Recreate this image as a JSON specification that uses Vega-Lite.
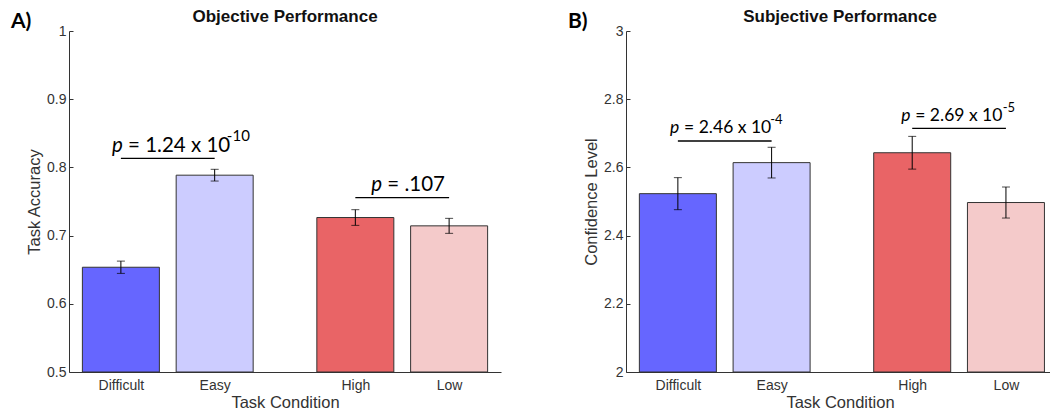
{
  "$schema": "https://vega.github.io/schema/vega-lite/v6.json",
  "padding": {"left": 10, "top": 8, "right": 0, "bottom": 5},
  "spacing": 125,
  "bounds": "flush",
  "config": {"view": {"stroke": null}, "font": "Liberation Sans"},
  "datasets": {
    "barsA": [
      {"cond": "Difficult", "pos": 1, "mean": 0.6536, "err": 0.009},
      {"cond": "Easy", "pos": 2, "mean": 0.7886, "err": 0.0086},
      {"cond": "High", "pos": 3.5, "mean": 0.7265, "err": 0.0115},
      {"cond": "Low", "pos": 4.5, "mean": 0.7143, "err": 0.011}
    ],
    "barsB": [
      {"cond": "Difficult", "pos": 1, "mean": 2.523, "err": 0.047},
      {"cond": "Easy", "pos": 2, "mean": 2.614, "err": 0.045},
      {"cond": "High", "pos": 3.5, "mean": 2.643, "err": 0.048},
      {"cond": "Low", "pos": 4.5, "mean": 2.497, "err": 0.0455}
    ],
    "annA": [
      {"x1": 1, "x2": 2, "ly": 0.8133, "tx": 0.906, "ty": 0.8226, "text": "= 1.24 x 10", "exp": "-10", "ex": 2.13},
      {"x1": 3.5, "x2": 4.5, "ly": 0.7556, "tx": 3.67, "ty": 0.7654, "text": "= .107", "exp": "", "ex": 4.5}
    ],
    "annB": [
      {"x1": 1, "x2": 2, "ly": 2.6774, "tx": 0.917, "ty": 2.7018, "text": "= 2.46 x 10", "exp": "-4", "ex": 1.985},
      {"x1": 3.5, "x2": 4.5, "ly": 2.7146, "tx": 3.383, "ty": 2.736, "text": "= 2.69 x 10", "exp": "-5", "ex": 4.465}
    ],
    "panelA": [{"label": "A)"}],
    "panelB": [{"label": "B)"}]
  },
  "hconcat": [
    {
      "width": 432,
      "height": 341,
      "title": {"text": "Objective Performance", "frame": "group", "anchor": "middle", "fontSize": 17, "fontWeight": "bold", "color": "#111", "offset": -28, "baseline": "alphabetic"},
      "encoding": {
        "x": {"type": "quantitative", "scale": {"domain": [0.5, 5], "nice": false, "zero": false}},
        "y": {"type": "quantitative", "scale": {"domain": [0.5, 1], "nice": false, "zero": false}}
      },
      "layer": [
        {
          "data": {"name": "barsA"},
          "mark": {"type": "bar", "size": 77, "stroke": "#333", "strokeWidth": 1},
          "encoding": {
            "x": {"field": "pos", "type": "quantitative", "axis": {"values": [1, 2, 3.5, 4.5], "labelExpr": "datum.value == 1 ? 'Difficult' : datum.value == 2 ? 'Easy' : datum.value == 3.5 ? 'High' : 'Low'", "ticks": false, "grid": false, "title": "Task Condition", "labelFontSize": 14, "labelColor": "#333", "labelPadding": 6, "titleFontSize": 16.5, "titleFontWeight": "normal", "titleColor": "#333", "titlePadding": 2, "domainColor": "#333"}},
            "y": {"field": "mean", "type": "quantitative", "title": "Task Accuracy", "axis": {"values": [0.5, 0.6, 0.7, 0.8, 0.9, 1], "format": "~g", "grid": false, "tickSize": -4, "tickColor": "#333", "domainColor": "#333", "labelFontSize": 14, "labelColor": "#333", "labelPadding": 7, "title": "Task Accuracy", "titleFontSize": 16.5, "titleFontWeight": "normal", "titleColor": "#333", "titlePadding": 4}},
            "y2": {"datum": 0.5},
            "color": {"field": "cond", "type": "nominal", "scale": {"domain": ["Difficult", "Easy", "High", "Low"], "range": ["#6666FF", "#CCCCFF", "#E96466", "#F4CACA"]}, "legend": null}
          }
        },
        {
          "data": {"name": "barsA"},
          "mark": {"type": "errorbar", "ticks": {"size": 8}, "color": "black", "thickness": 1},
          "encoding": {
            "x": {"field": "pos", "type": "quantitative"},
            "y": {"field": "mean", "type": "quantitative", "title": "Task Accuracy"},
            "yError": {"field": "err"}
          }
        },
        {
          "data": {"name": "annA"},
          "mark": {"type": "rule", "color": "black", "strokeWidth": 1.3},
          "encoding": {
            "x": {"field": "x1", "type": "quantitative"},
            "x2": {"field": "x2"},
            "y": {"field": "ly", "type": "quantitative"}
          }
        },
        {
          "data": {"name": "annA"},
          "mark": {"type": "text", "text": "p", "font": "Lato", "fontSize": 20.5, "fontStyle": "italic", "align": "left", "baseline": "alphabetic", "color": "black"},
          "encoding": {"x": {"field": "tx", "type": "quantitative"}, "y": {"field": "ty", "type": "quantitative"}}
        },
        {
          "data": {"name": "annA"},
          "mark": {"type": "text", "font": "Lato", "fontSize": 20.5, "align": "left", "baseline": "alphabetic", "color": "black", "dx": 16},
          "encoding": {"x": {"field": "tx", "type": "quantitative"}, "y": {"field": "ty", "type": "quantitative"}, "text": {"field": "text"}}
        },
        {
          "data": {"name": "annA"},
          "mark": {"type": "text", "font": "Lato", "fontSize": 15, "align": "left", "baseline": "alphabetic", "color": "black", "dy": -11},
          "encoding": {"x": {"field": "ex", "type": "quantitative"}, "y": {"field": "ty", "type": "quantitative"}, "text": {"field": "exp"}}
        },
        {
          "data": {"name": "panelA"},
          "mark": {"type": "text", "font": "Lato", "fontSize": 21, "fontWeight": "bold", "align": "left", "baseline": "alphabetic", "color": "black", "dx": -63, "dy": -3},
          "encoding": {"x": {"datum": 0.5}, "y": {"datum": 1}, "text": {"field": "label"}}
        }
      ]
    },
    {
      "width": 424,
      "height": 341,
      "title": {"text": "Subjective Performance", "frame": "group", "anchor": "middle", "fontSize": 17, "fontWeight": "bold", "color": "#111", "offset": -28, "baseline": "alphabetic", "dx": 2},
      "encoding": {
        "x": {"type": "quantitative", "scale": {"domain": [0.5, 4.9167], "nice": false, "zero": false}},
        "y": {"type": "quantitative", "scale": {"domain": [2, 3], "nice": false, "zero": false}}
      },
      "layer": [
        {
          "data": {"name": "barsB"},
          "mark": {"type": "bar", "size": 77, "stroke": "#333", "strokeWidth": 1},
          "encoding": {
            "x": {"field": "pos", "type": "quantitative", "axis": {"values": [1, 2, 3.5, 4.5], "labelExpr": "datum.value == 1 ? 'Difficult' : datum.value == 2 ? 'Easy' : datum.value == 3.5 ? 'High' : 'Low'", "ticks": false, "grid": false, "title": "Task Condition", "labelFontSize": 14, "labelColor": "#333", "labelPadding": 6, "titleFontSize": 16.5, "titleFontWeight": "normal", "titleColor": "#333", "titlePadding": 2, "titleX": 214, "domainColor": "#333"}},
            "y": {"field": "mean", "type": "quantitative", "title": "Confidence Level", "axis": {"values": [2, 2.2, 2.4, 2.6, 2.8, 3], "format": "~g", "grid": false, "tickSize": -4, "tickColor": "#333", "domainColor": "#333", "labelFontSize": 14, "labelColor": "#333", "labelPadding": 7, "title": "Confidence Level", "titleFontSize": 16.5, "titleFontWeight": "normal", "titleColor": "#333", "titlePadding": 4}},
            "y2": {"datum": 2},
            "color": {"field": "cond", "type": "nominal", "scale": {"domain": ["Difficult", "Easy", "High", "Low"], "range": ["#6666FF", "#CCCCFF", "#E96466", "#F4CACA"]}, "legend": null}
          }
        },
        {
          "data": {"name": "barsB"},
          "mark": {"type": "errorbar", "ticks": {"size": 8}, "color": "black", "thickness": 1},
          "encoding": {
            "x": {"field": "pos", "type": "quantitative"},
            "y": {"field": "mean", "type": "quantitative", "title": "Confidence Level"},
            "yError": {"field": "err"}
          }
        },
        {
          "data": {"name": "annB"},
          "mark": {"type": "rule", "color": "black", "strokeWidth": 1.3},
          "encoding": {
            "x": {"field": "x1", "type": "quantitative"},
            "x2": {"field": "x2"},
            "y": {"field": "ly", "type": "quantitative"}
          }
        },
        {
          "data": {"name": "annB"},
          "mark": {"type": "text", "text": "p", "font": "Lato", "fontSize": 17.5, "fontStyle": "italic", "align": "left", "baseline": "alphabetic", "color": "black"},
          "encoding": {"x": {"field": "tx", "type": "quantitative"}, "y": {"field": "ty", "type": "quantitative"}}
        },
        {
          "data": {"name": "annB"},
          "mark": {"type": "text", "font": "Lato", "fontSize": 17.5, "align": "left", "baseline": "alphabetic", "color": "black", "dx": 14},
          "encoding": {"x": {"field": "tx", "type": "quantitative"}, "y": {"field": "ty", "type": "quantitative"}, "text": {"field": "text"}}
        },
        {
          "data": {"name": "annB"},
          "mark": {"type": "text", "font": "Lato", "fontSize": 13, "align": "left", "baseline": "alphabetic", "color": "black", "dy": -9},
          "encoding": {"x": {"field": "ex", "type": "quantitative"}, "y": {"field": "ty", "type": "quantitative"}, "text": {"field": "exp"}}
        },
        {
          "data": {"name": "panelB"},
          "mark": {"type": "text", "font": "Lato", "fontSize": 21, "fontWeight": "bold", "align": "left", "baseline": "alphabetic", "color": "black", "dx": -63, "dy": -3},
          "encoding": {"x": {"datum": 0.5}, "y": {"datum": 3}, "text": {"field": "label"}}
        }
      ]
    }
  ]
}
